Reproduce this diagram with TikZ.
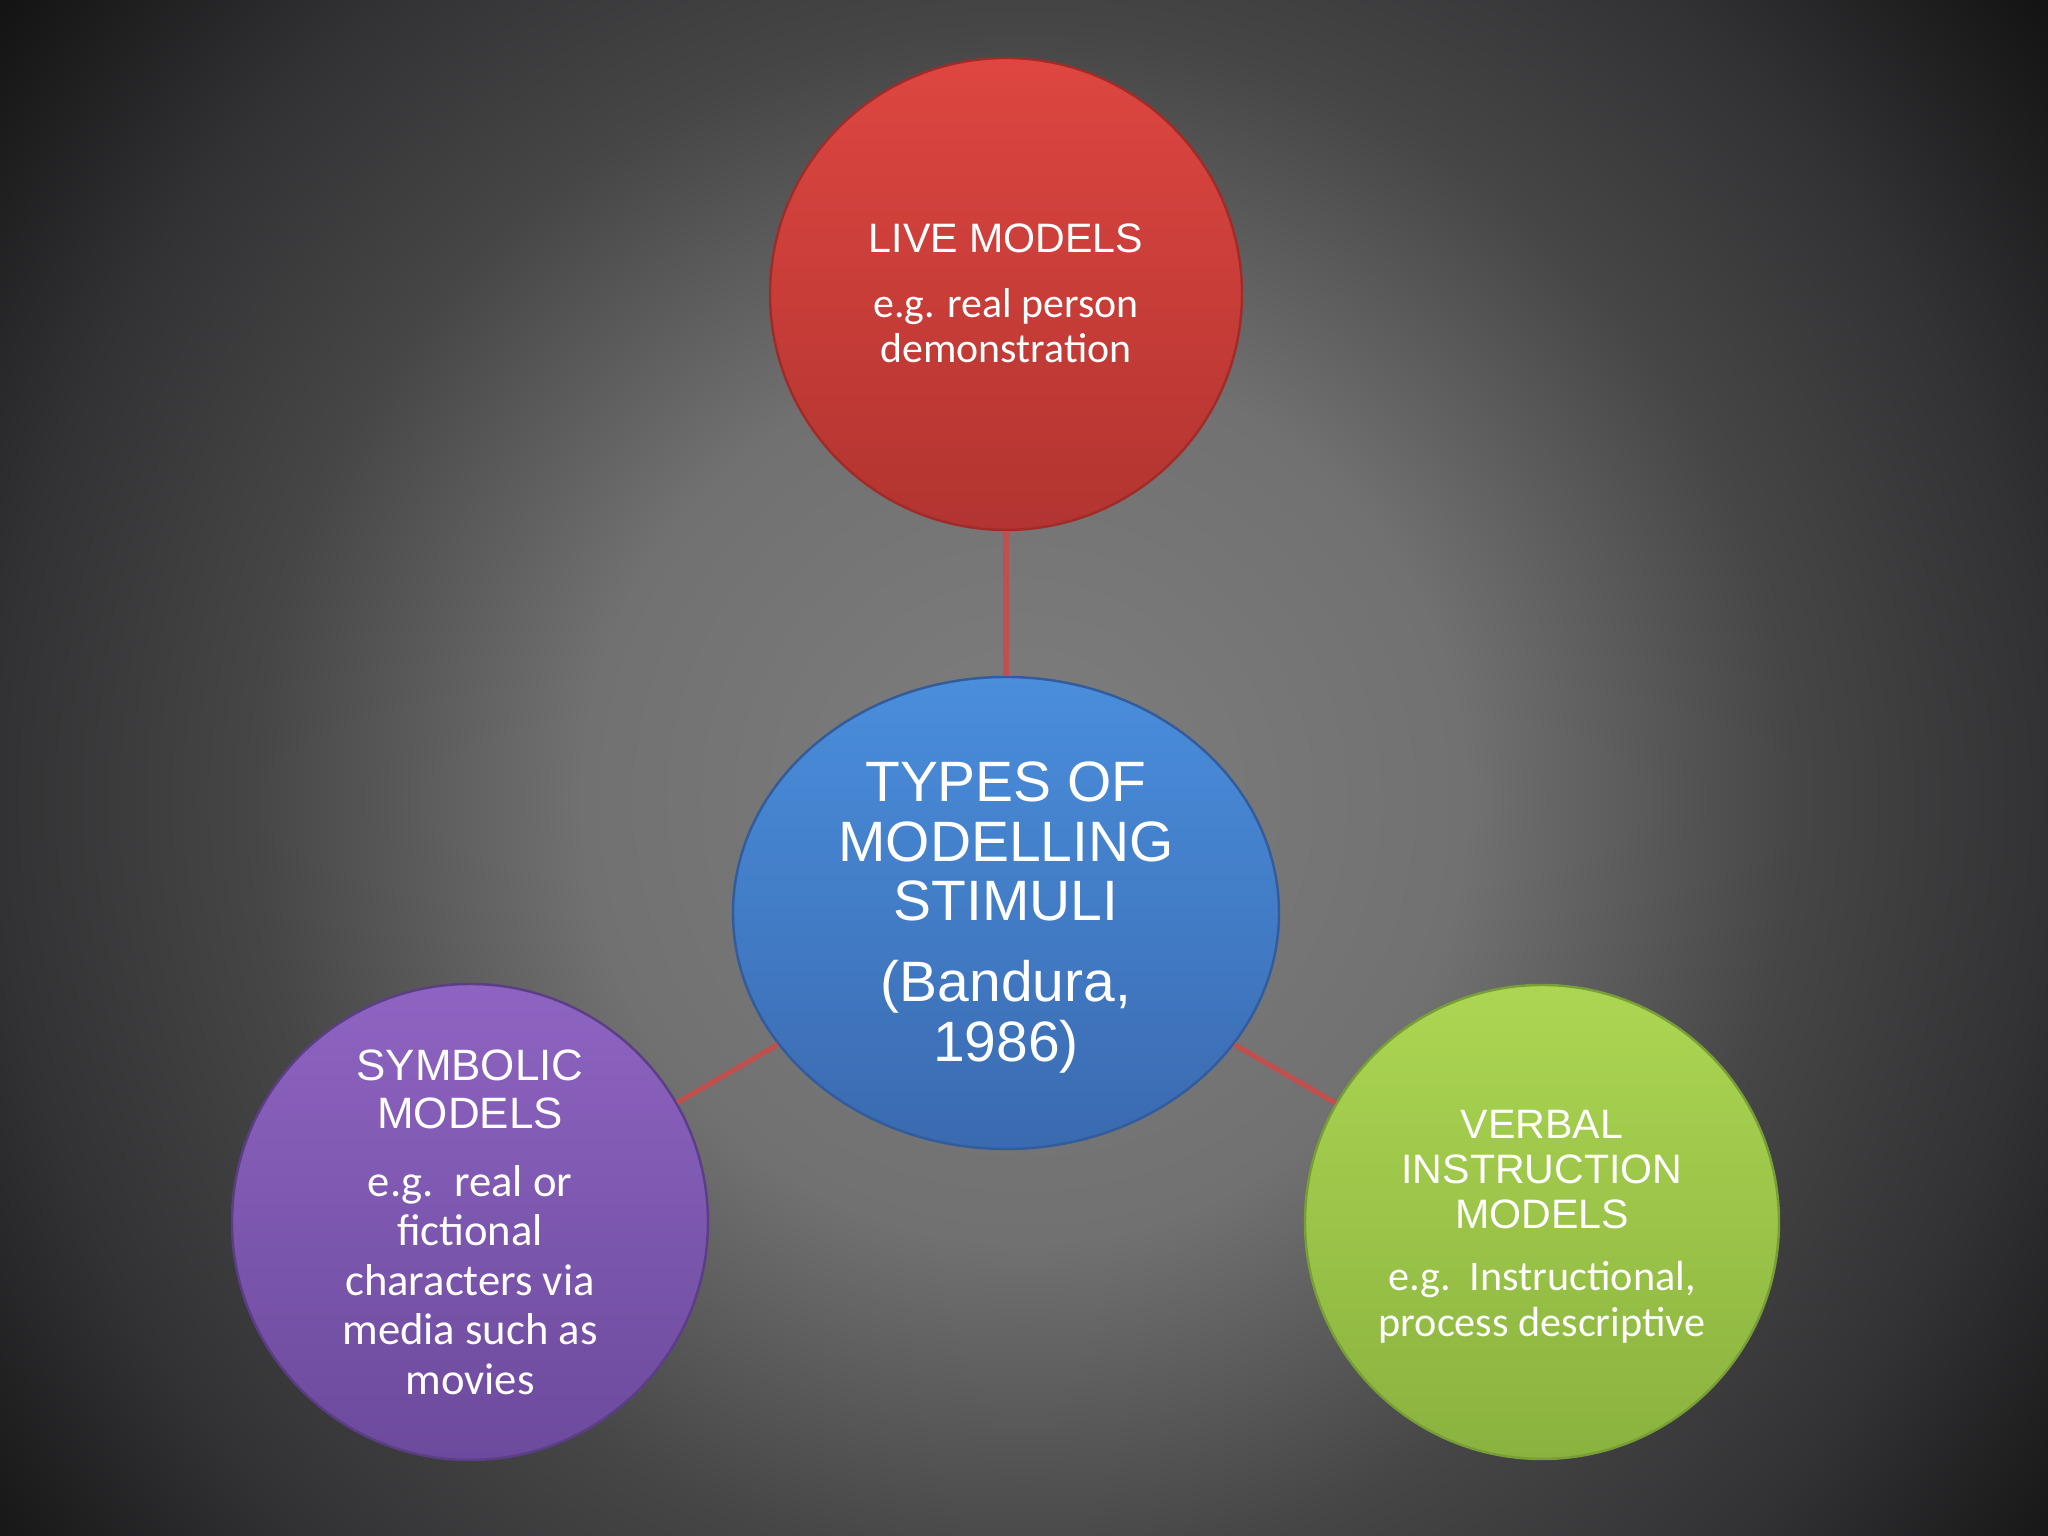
\documentclass[tikz,border=0pt]{standalone}
\usepackage{fontspec}
\setmainfont{Liberation Sans}
\newfontfamily\calfont{Carlito}
\usetikzlibrary{shapes.geometric}
\definecolor{bgA}{RGB}{126,126,126}
\definecolor{bgB}{RGB}{113,113,113}
\definecolor{bgC}{RGB}{70,70,71}
\definecolor{bgD}{RGB}{50,50,52}
\definecolor{bgE}{RGB}{20,20,21}
\pgfdeclareradialshading{bgshade}{\pgfpoint{0bp}{0bp}}{color(0bp)=(bgA); color(8.5bp)=(bgB); color(14.8bp)=(bgC); color(19.7bp)=(bgD); color(24.8bp)=(bgE); color(50bp)=(bgE)}
\definecolor{redT}{RGB}{222,70,65}
\definecolor{redB}{RGB}{178,52,48}
\definecolor{redD}{RGB}{160,44,42}
\definecolor{bluT}{RGB}{74,142,220}
\definecolor{bluB}{RGB}{58,106,176}
\definecolor{bluD}{RGB}{50,92,155}
\definecolor{purT}{RGB}{142,100,194}
\definecolor{purB}{RGB}{108,74,156}
\definecolor{purD}{RGB}{92,62,135}
\definecolor{grnT}{RGB}{172,214,82}
\definecolor{grnB}{RGB}{138,178,63}
\definecolor{grnD}{RGB}{120,158,55}
\definecolor{connC}{RGB}{192,80,77}
\tikzset{
  ball/.style={circle, inner sep=0pt, line width=0.7pt},
  conn/.style={draw=connC, line width=1.5pt},
  ttl/.style={text=white, align=center, inner sep=0pt},
  sub/.style={text=white, align=center, inner sep=0pt},
}
\begin{document}
\begin{tikzpicture}
\useasboundingbox (0,0) rectangle (20.48,15.36);
\begin{scope}
\clip (0,0) rectangle (20.48,15.36);
\shade[shading=bgshade] (10.24-13,7.36-13) rectangle (10.24+13,7.36+13);
\end{scope}
% circles
\node[ball, minimum size=4.72cm, top color=redT, bottom color=redB, draw=redD] (live) at (10.06,12.42) {};
\node[ball, ellipse, minimum width=5.46cm, minimum height=4.72cm, top color=bluT, bottom color=bluB, draw=bluD] (hub) at (10.06,6.23) {};
\node[ball, minimum size=4.76cm, top color=purT, bottom color=purB, draw=purD] (symb) at (4.70,3.14) {};
\node[ball, minimum size=4.74cm, top color=grnT, bottom color=grnB, draw=grnD] (verb) at (15.42,3.14) {};
% connectors
\draw[conn] (live) -- (hub);
\draw[conn] (hub) -- (symb);
\draw[conn] (hub) -- (verb);
% texts
\node[ttl, font=\fontsize{11.7}{12.8}\selectfont] (liveT) at (10.06,12.98) {LIVE MODELS};
\node[sub, font=\calfont\fontsize{11.9}{12.8}\selectfont] (liveS) at (10.06,12.105) {e.g. real person\\demonstration};
\node[ttl, font=\fontsize{16.2}{17}\selectfont] (hubT) at (10.06,6.945) {TYPES OF\\MODELLING\\STIMULI};
\node[ttl, font=\fontsize{16.2}{17}\selectfont] (hubS) at (10.06,5.195) {(Bandura,\\1986)};
\node[ttl, font=\fontsize{12.5}{13.7}\selectfont] (symbT) at (4.70,4.47) {SYMBOLIC\\MODELS};
\node[sub, font=\calfont\fontsize{12.7}{14.1}\selectfont] (symbS) at (4.70,2.56) {e.g.\ \ real or\\fictional\\characters via\\media such as\\movies};
\node[ttl, font=\fontsize{11.7}{12.8}\selectfont] (verbT) at (15.42,3.665) {VERBAL\\INSTRUCTION\\MODELS};
\node[sub, font=\calfont\fontsize{12}{13}\selectfont] (verbS) at (15.42,2.34) {e.g.\ \ Instructional,\\process descriptive};
\end{tikzpicture}
\end{document}
